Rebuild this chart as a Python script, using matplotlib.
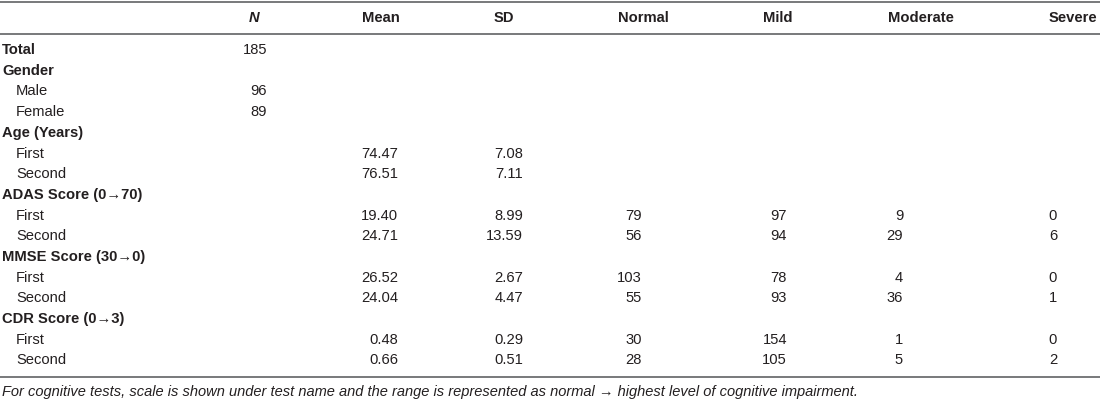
import matplotlib
matplotlib.use("Agg")
import matplotlib.pyplot as plt

# table content
headers = ["N", "Mean", "SD", "Normal", "Mild", "Moderate", "Severe"]
row_labels = ["Total", "Gender", "Male", "Female", "Age (Years)", "First", "Second",
              "ADAS Score (0\u219270)", "First", "Second",
              "MMSE Score (30\u21920)", "First", "Second",
              "CDR Score (0\u21923)", "First", "Second"]
row_bold = [True, True, False, False, True, False, False,
            True, False, False, True, False, False, True, False, False]
n_col = ["185", "", "96", "89", "", "", "", "", "", "", "", "", "", "", "", ""]
mean_col = ["", "", "", "", "", "74.47", "76.51", "", "19.40", "24.71",
            "", "26.52", "24.04", "", "0.48", "0.66"]
sd_col = ["", "", "", "", "", "7.08", "7.11", "", "8.99", "13.59",
          "", "2.67", "4.47", "", "0.29", "0.51"]
normal_col = ["", "", "", "", "", "", "", "", "79", "56", "", "103", "55", "", "30", "28"]
mild_col = ["", "", "", "", "", "", "", "", "97", "94", "", "78", "93", "", "154", "105"]
moderate_col = ["", "", "", "", "", "", "", "", "9", "29", "", "4", "36", "", "1", "5"]
severe_col = ["", "", "", "", "", "", "", "", "0", "6", "", "0", "1", "", "0", "2"]
footnote = ("For cognitive tests, scale is shown under test name and the range is "
            "represented as normal \u2192 highest level of cognitive impairment.")

columns = [n_col, mean_col, sd_col, normal_col, mild_col, moderate_col, severe_col]

# layout (pixel space)
W, H = 1100, 401
header_x = [254, 381, 504, 643, 778, 921, 1073]
value_right = [267, 398, 523, 642, 787, 903, 1057]
row_y0, row_dy = 50, 20.7
txt = "#231f20"
rule = "#6d6e71"
fs = 10.6

plt.rcParams['font.family'] = ['Liberation Sans', 'DejaVu Sans']

fig = plt.figure(figsize=(W / 100, H / 100), dpi=100)
ax = fig.add_axes([0, 0, 1, 1])
ax.set_xlim(0, W)
ax.set_ylim(H, 0)
ax.axis("off")

# rules
for y in (1.5, 34, 377):
    ax.plot([0, W], [y, y], color=rule, lw=1.3, solid_capstyle="butt")

# header
for x, h in zip(header_x, headers):
    style = "italic" if h == "N" else "normal"
    ax.text(x, 17.5, h, ha="center", va="center", fontsize=fs,
            fontweight="bold", fontstyle=style, color=txt)

# rows
for i, (lab, bold) in enumerate(zip(row_labels, row_bold)):
    y = row_y0 + i * row_dy
    ax.text(2 if bold else 16, y, lab, ha="left", va="center", fontsize=fs,
            fontweight="bold" if bold else "normal", color=txt)
    for xr, col in zip(value_right, columns):
        if col[i]:
            ax.text(xr, y, col[i], ha="right", va="center", fontsize=fs, color=txt)

ax.text(2, 392, footnote, ha="left", va="center", fontsize=10.5,
        fontstyle="italic", color=txt)

fig.savefig("out.png", dpi=100)
